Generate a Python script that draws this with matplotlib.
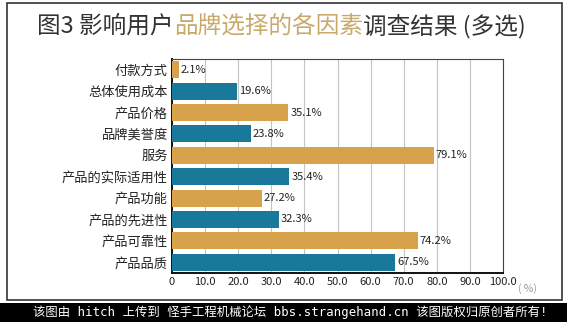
import matplotlib
matplotlib.use("Agg")
import matplotlib.pyplot as plt
from matplotlib.patches import Rectangle

plt.rcParams['font.family'] = ['Noto Sans CJK SC', 'DejaVu Sans']

factors = ['付款方式', '总体使用成本', '产品价格', '品牌美誉度', '服务',
           '产品的实际适用性', '产品功能', '产品的先进性', '产品可靠性', '产品品质']
shares = [2.1, 19.6, 35.1, 23.8, 79.1, 35.4, 27.2, 32.3, 74.2, 67.5]
x_ticks = [0, 10, 20, 30, 40, 50, 60, 70, 80, 90, 100]
x_tick_labels = ['0', '10.0', '20.0', '30.0', '40.0', '50.0', '60.0', '70.0', '80.0', '90.0', '100.0']

gold = '#D6A24C'
blue = '#18799B'
colors = [gold if i % 2 == 0 else blue for i in range(len(factors))]

W, H = 567, 322
fig = plt.figure(figsize=(W / 100, H / 100), dpi=100)
fig.patch.set_facecolor('white')

# outer frame
fig.patches.append(Rectangle((7 / W, 22 / H), 555 / W, 297 / H, transform=fig.transFigure,
                             fill=False, edgecolor='#333333', linewidth=1.2))
# bottom banner
fig.patches.append(Rectangle((0, 0), 1, 19 / H, transform=fig.transFigure,
                             facecolor='black', edgecolor='none'))
fig.text(33 / W, 9.5 / H,
         '该图由 hitch 上传到 怪手工程机械论坛 bbs.strangehand.cn 该图版权归原创者所有!',
         color='white', fontsize=8.9, va='center', ha='left',
         family=['DejaVu Sans Mono', 'Noto Sans CJK SC'])

ax = fig.add_axes([172 / W, 49 / H, 331 / W, 214 / H])
y = list(range(len(factors)))
ax.barh(y, shares, height=0.8, color=colors, zorder=3)
for yi, v in zip(y, shares):
    ax.text(v + 0.6, yi, f'{v:.1f}%', va='center', ha='left', fontsize=8,
            color='#222222', zorder=4)

ax.set_xlim(0, 100)
ax.set_ylim(len(factors) - 0.5, -0.5)
ax.set_yticks(y)
ax.set_yticklabels(factors, fontsize=9.5, color='#222222')
ax.set_xticks(x_ticks)
ax.set_xticklabels(x_tick_labels, fontsize=8, color='#222222')
ax.tick_params(axis='both', length=0, pad=3)
ax.grid(axis='x', color='#c4c4c4', linewidth=0.8, zorder=0)
for side in ['left', 'bottom']:
    ax.spines[side].set_linewidth(1.4)
    ax.spines[side].set_color('#111111')
for side in ['right', 'top']:
    ax.spines[side].set_linewidth(0.8)
    ax.spines[side].set_color('#444444')
ax.text(1.045, -0.045, '( %)', transform=ax.transAxes, fontsize=7.5,
        color='#999999', va='top', ha='left')

# title in three colour runs
parts = [('图3 影响用户', '#333333'), ('品牌选择的各因素', '#C9A96A'),
         ('调查结果 (多选)', '#333333')]
fig.canvas.draw()
renderer = fig.canvas.get_renderer()
texts = []
for s, c in parts:
    texts.append(fig.text(0, 296 / H, s, color=c, fontsize=17, va='center', ha='left'))
widths = [t.get_window_extent(renderer).width for t in texts]
x0 = (W - sum(widths)) / 2 - 2
for t, w in zip(texts, widths):
    t.set_x(x0 / W)
    x0 += w

fig.savefig('out.png', dpi=100)
